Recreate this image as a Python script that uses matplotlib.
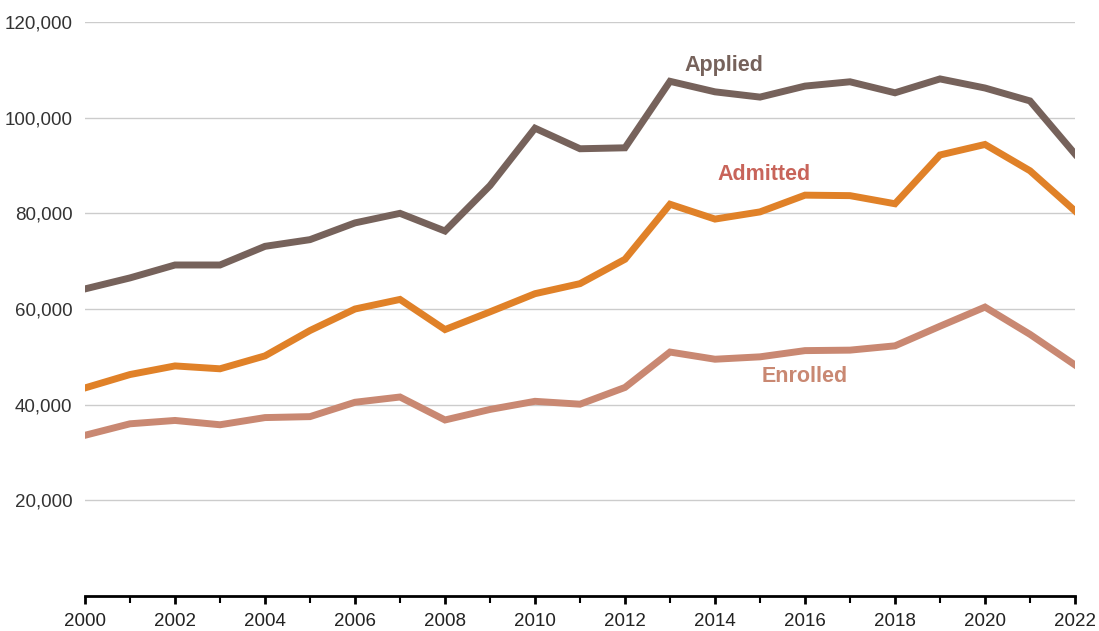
import numpy as np
import matplotlib.pyplot as plt
from matplotlib.ticker import FuncFormatter, MultipleLocator

years = list(range(2000, 2023))

applied = [64200, 66500, 69200, 69200, 73100, 74500, 78000, 80000, 76300, 85800,
           97800, 93500, 93700, 107600, 105400, 104300, 106600, 107500, 105200, 108100,
           106200, 103500, 92400]
admitted = [43500, 46300, 48100, 47500, 50200, 55500, 60000, 62000, 55700, 59400,
            63200, 65300, 70400, 81900, 78800, 80300, 83800, 83700, 82000, 92200,
            94400, 88900, 80500]
enrolled = [33600, 36000, 36700, 35800, 37300, 37500, 40500, 41600, 36800, 39000,
            40700, 40100, 43600, 51000, 49500, 50000, 51300, 51400, 52300, 56400,
            60400, 54700, 48300]

c_applied = '#76625b'
c_admitted = '#e08128'
c_admitted_lbl = '#c8645a'
c_enrolled = '#c98872'

plt.rcParams['font.family'] = ['Liberation Sans', 'DejaVu Sans']

fig = plt.figure(figsize=(10.99, 6.31), dpi=100)
ax = fig.add_axes([85 / 1099, 1 - 596 / 631, 990 / 1099, 574 / 631])

ax.plot(years, applied, color=c_applied, lw=5, solid_joinstyle='miter', zorder=3)
ax.plot(years, admitted, color=c_admitted, lw=5, solid_joinstyle='miter', zorder=3)
ax.plot(years, enrolled, color=c_enrolled, lw=5, solid_joinstyle='miter', zorder=3)

# series labels
ax.text(2014.2, 111000, 'Applied', color=c_applied, fontsize=15.5, fontweight='bold', ha='center', va='center')
ax.text(2015.1, 88200, 'Admitted', color=c_admitted_lbl, fontsize=15.5, fontweight='bold', ha='center', va='center')
ax.text(2016.0, 45800, 'Enrolled', color=c_enrolled, fontsize=15.5, fontweight='bold', ha='center', va='center')

ax.set_xlim(2000, 2022)
ax.set_ylim(0, 120000)
ax.set_yticks([20000, 40000, 60000, 80000, 100000, 120000])
ax.yaxis.set_major_formatter(FuncFormatter(lambda v, p: f'{int(v):,}'))
ax.xaxis.set_major_locator(MultipleLocator(2))
ax.xaxis.set_minor_locator(MultipleLocator(1))

ax.grid(axis='y', color='#cccccc', lw=1)
ax.set_axisbelow(True)
for s in ['top', 'right', 'left']:
    ax.spines[s].set_visible(False)
ax.spines['bottom'].set_linewidth(2)
ax.spines['bottom'].set_color('black')
ax.tick_params(axis='y', length=0, pad=9, labelsize=13.5, labelcolor='#333333')
ax.tick_params(axis='x', which='major', length=6, width=2, labelsize=13.5, pad=6, labelcolor='#222222')
ax.tick_params(axis='x', which='minor', length=5, width=1.5)

fig.savefig('out.png', dpi=100)
